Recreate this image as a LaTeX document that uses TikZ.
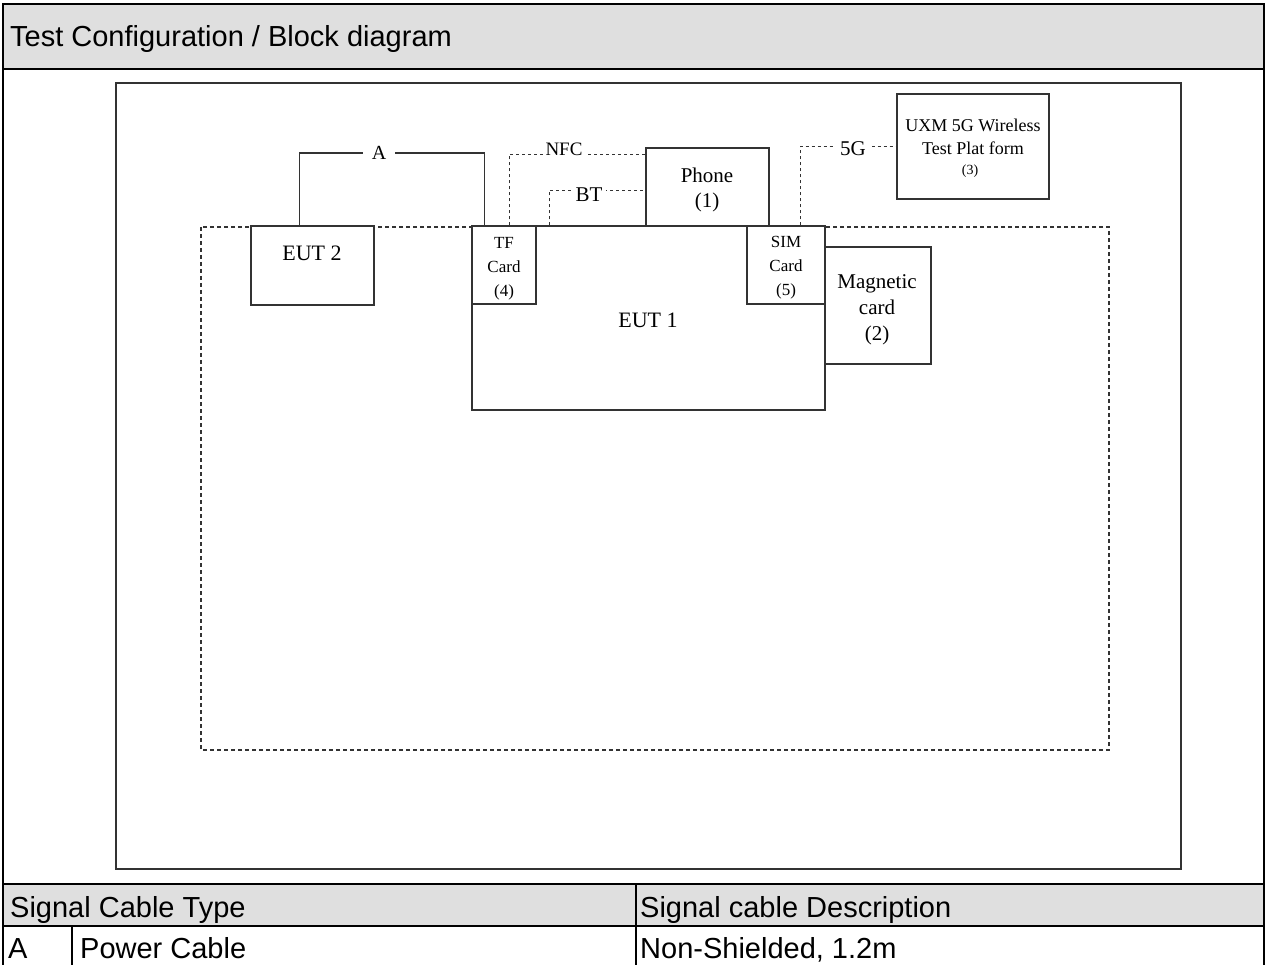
\documentclass[tikz,border=0pt]{standalone}
\usepackage{fontspec}
\setmainfont{Liberation Serif}
\newfontfamily\arialf{Liberation Sans}
\usetikzlibrary{calc}
\definecolor{hdrgray}{HTML}{DFDFDF}
\definecolor{ln}{HTML}{333333}
\tikzset{
  frame/.style={line width=2pt, black},
  box/.style={draw=ln, line width=1.3pt, inner sep=0pt, fill=white},
  cable/.style={draw=ln, line width=1.3pt},
  wireless/.style={draw=ln, line width=1.2pt, dash pattern=on 3pt off 3pt},
  hdrtxt/.style={anchor=base west, inner sep=0pt, font=\arialf\fontsize{29}{32}\selectfont},
  boxtxt/.style={align=center, inner sep=0pt, font=\fontsize{22}{26}\selectfont},
  smalltxt/.style={align=center, inner sep=0pt, font=\fontsize{17}{24}\selectfont},
  lbl/.style={fill=white, inner xsep=6pt, inner ysep=1pt, font=\fontsize{21}{24}\selectfont}
}
\begin{document}
\begin{tikzpicture}[x=1pt,y=-1pt]
\useasboundingbox (0,0) rectangle (1266,965);
% table backgrounds
\fill[hdrgray] (3,4) rectangle (1264,69);
\fill[hdrgray] (3,884) rectangle (1264,926);
\draw[frame] (3,966) -- (3,4) -- (1264,4) -- (1264,966);
\draw[frame] (3,69) -- (1264,69);
\draw[frame] (3,884) -- (1264,884);
\draw[frame] (3,926) -- (1264,926);
\draw[line width=1.5pt] (636,884) -- (636,966);
\draw[line width=1.5pt] (72,926) -- (72,966);
\node[hdrtxt] (title) at (10,47) {Test Configuration / Block diagram};
\node[hdrtxt] (h1) at (10,917) {Signal Cable Type};
\node[hdrtxt] (h2) at (640,917) {Signal cable Description};
\node[hdrtxt] (r1) at (8,958) {A};
\node[hdrtxt] (r2) at (80,958) {Power Cable};
\node[hdrtxt] (r3) at (640,958) {Non-Shielded, 1.2m};
% inner frame
\draw[draw=ln, line width=1.5pt] (116,83) rectangle (1181,869);
% dashed test table outline
\draw[draw=ln, line width=1.3pt, dash pattern=on 4pt off 3pt] (201,227) rectangle (1109,750);
% boxes
\node[box, minimum width=123pt, minimum height=79pt] (eut2) at (312.5,265.5) {};
\node[box, minimum width=353pt, minimum height=184pt] (eut1) at (648.5,318) {};
\node[box, minimum width=64pt, minimum height=78pt] (tf) at (504,265) {};
\node[box, minimum width=78pt, minimum height=78pt] (sim) at (786,265) {};
\node[box, minimum width=123pt, minimum height=78pt] (phone) at (707.5,187) {};
\node[box, minimum width=106pt, minimum height=117pt] (mag) at (878,305.5) {};
\node[box, minimum width=152pt, minimum height=105pt] (uxm) at (973,146.5) {};
% box texts
\node[boxtxt] (eut2t) at (312,253) {EUT 2};
\node[boxtxt] (eut1t) at (648,320) {EUT 1};
\node[smalltxt] (tft) at (504,269) {TF\\Card\\(4)};
\node[smalltxt] (simt) at (786,268) {SIM\\Card\\(5)};
\node[boxtxt, font=\fontsize{21}{25}\selectfont] (phonet) at (707,190) {Phone\\(1)};
\node[boxtxt, font=\fontsize{21}{26}\selectfont] (magt) at (877,310) {Magnetic\\card\\(2)};
\node[align=center, inner sep=0pt, font=\fontsize{18}{23}\selectfont] (uxmt) at (973,137) {UXM 5G Wireless\\Test Plat form};
\node[inner sep=0pt, font=\fontsize{14}{16}\selectfont] (uxmn) at (970,171) {(3)};
% cable A
\coordinate (aS) at ($(eut2.north west)+(49,0)$);
\coordinate (aE) at ($(tf.north west)+(13,0)$);
\coordinate (aTop) at (379,153);
\draw[cable] (aS) |- (aTop) -| (aE);
\node[lbl, inner xsep=9pt, font=\fontsize{20}{24}\selectfont] (alab) at (379,153) {A};
% NFC
\coordinate (nS) at ($(tf.north west)+(38,0)$);
\coordinate (nE) at ($(phone.north west)+(0,7)$);
\draw[wireless] (nS) |- (nE);
\node[lbl, inner xsep=3pt, font=\fontsize{19}{22}\selectfont] (nfc) at (564,149) {NFC};
% BT
\coordinate (bS) at ($(eut1.north west)+(78,0)$);
\coordinate (bE) at ($(phone.north west)+(0,43)$);
\draw[wireless] (bS) |- (bE);
\node[lbl, inner xsep=4pt] (bt) at (589,195) {BT};
% 5G
\coordinate (gS) at ($(sim.north west)+(54,0)$);
\draw[wireless] (gS) |- (uxm.west);
\node[lbl, inner xsep=6pt] (g5) at (853,149) {5G};
\end{tikzpicture}
\end{document}
